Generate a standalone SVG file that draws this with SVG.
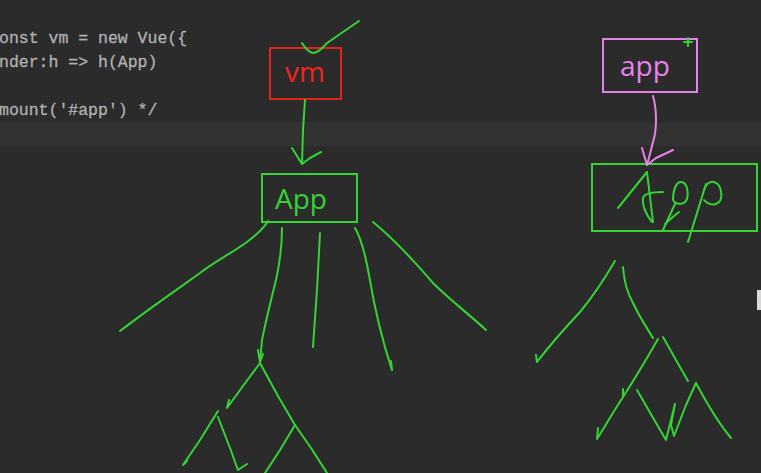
<svg xmlns="http://www.w3.org/2000/svg" width="761" height="473" viewBox="0 0 761 473">
<style>
.bg{fill:#2b2b2b}
.code{font-family:"Liberation Mono","DejaVu Sans Mono",monospace;font-size:16.5px;fill:#b0b0b0;stroke:#b0b0b0;stroke-width:0.3}
.g{fill:none;stroke:#33d433;stroke-width:2;stroke-linecap:round;stroke-linejoin:round}
.p{fill:none;stroke:#e683ea;stroke-width:2;stroke-linecap:round;stroke-linejoin:round}
.lbl{font-family:"Open Sans","Noto Sans",sans-serif;font-size:28px}
</style>
<rect class="bg" x="0" y="0" width="761" height="473"/>
<rect x="0" y="122" width="761" height="24" fill="#323232"/>
<rect x="757" y="290" width="4" height="20" fill="#d8d8d8"/>
<g id="code">
<text class="code" x="-1" y="43">onst vm = new Vue({</text>
<text class="code" x="-1" y="67">nder:h =&gt; h(App)</text>
<text class="code" x="-1" y="115">mount('#app') */</text>
</g>
<g id="node-vm">
<rect x="270" y="48" width="71" height="51" fill="none" stroke="#e0241c" stroke-width="2"/>
<text class="lbl" x="305" y="82" text-anchor="middle" fill="#f0261c">vm</text>
</g>
<g id="node-App">
<rect x="262" y="174" width="95" height="48" fill="none" stroke="#33d433" stroke-width="2"/>
<text class="lbl" x="275" y="209" fill="#33d433">App</text>
</g>
<g id="node-app">
<rect x="603" y="39" width="94" height="53" fill="none" stroke="#e683ea" stroke-width="2"/>
<text class="lbl" x="620" y="76" fill="#e683ea">app</text>
<path class="g" d="M684 42h8M688 38v8"/>
</g>
<g id="node-App2">
<rect x="592" y="164" width="165" height="67" fill="none" stroke="#33d433" stroke-width="2"/>
<path class="g" d="M647 172 L618 208" stroke-width="3.2"/>
<path class="g" d="M647 172 L653 222"/>
<path class="g" d="M663 192 C652 192 644 194 643 198 C642 206 647 216 652 222"/>
<path class="g" d="M673 200 C673 190 676 182 681 182 C688 182 689 196 686 201 C683 205 676 205 673 200"/>
<path class="g" d="M675 204 L663 230"/>
<path class="g" d="M665 224 L674 216 L679 212"/>
<path class="g" d="M704 190 C706 184 710 181 714 182 C722 184 723 198 719 202 C715 206 708 205 704 200"/>
<path class="g" d="M706 184 L688 242"/>
</g>
<g id="connectors">
<path class="g" d="M302 43 C305 48 308 52 313 53 C319 53 323 47 327 43 L343 32 L359 21"/>
<path class="g" d="M305 100 L303 130 L302 164"/>
<path class="g" d="M292 148 L302 164 L310 158 L321 152"/>
<path class="p" d="M653 96 C657 110 657 130 653 142 C651 150 649 158 647 165"/>
<path class="p" d="M642 148 L647 165 L656 158 L673 150"/>
<path class="g" d="M268 221 C264 228 255 236 247 242 C232 253 214 262 200 273 C185 284 150 308 120 331"/>
<path class="g" d="M282 228 C282 248 280 262 276 280 C271 300 266 320 262 340 L260 362"/>
<path class="g" d="M258 350 L260 362 L263 354"/>
<path class="g" d="M320 233 L317 290 L313 347"/>
<path class="g" d="M355 228 C362 240 366 258 369 275 C374 305 382 340 392 370"/>
<path class="g" d="M391 361 L392 370"/>
<path class="g" d="M373 222 C395 240 415 262 433 283 C450 300 470 315 486 330"/>
<path class="g" d="M260 363 L243 386 L227 408 L229 400"/>
<path class="g" d="M260 363 L278 396 L295 425 L311 448 L327 473"/>
<path class="g" d="M295 425 L280 450 L265 473"/>
<path class="g" d="M218 411 L200 440 L183 465 L187 461"/>
<path class="g" d="M218 417 L230 448 L238 470 L247 464"/>
<path class="g" d="M615 261 C605 278 590 300 580 312 C565 328 550 345 537 362 L536 355"/>
<path class="g" d="M623 267 C624 282 628 294 633 303 C640 318 647 328 653 338"/>
<path class="g" d="M658 339 C646 360 634 380 623 397 C612 414 604 428 597 439 L598 428"/>
<path class="g" d="M623 389 L623 397"/>
<path class="g" d="M663 337 L676 360 L688 381"/>
<path class="g" d="M637 390 L652 416 L666 440 L675 404 L671 425 L674 436 L686 405 L696 383"/>
<path class="g" d="M696 383 C705 400 716 420 731 438"/>
</g>
</svg>
